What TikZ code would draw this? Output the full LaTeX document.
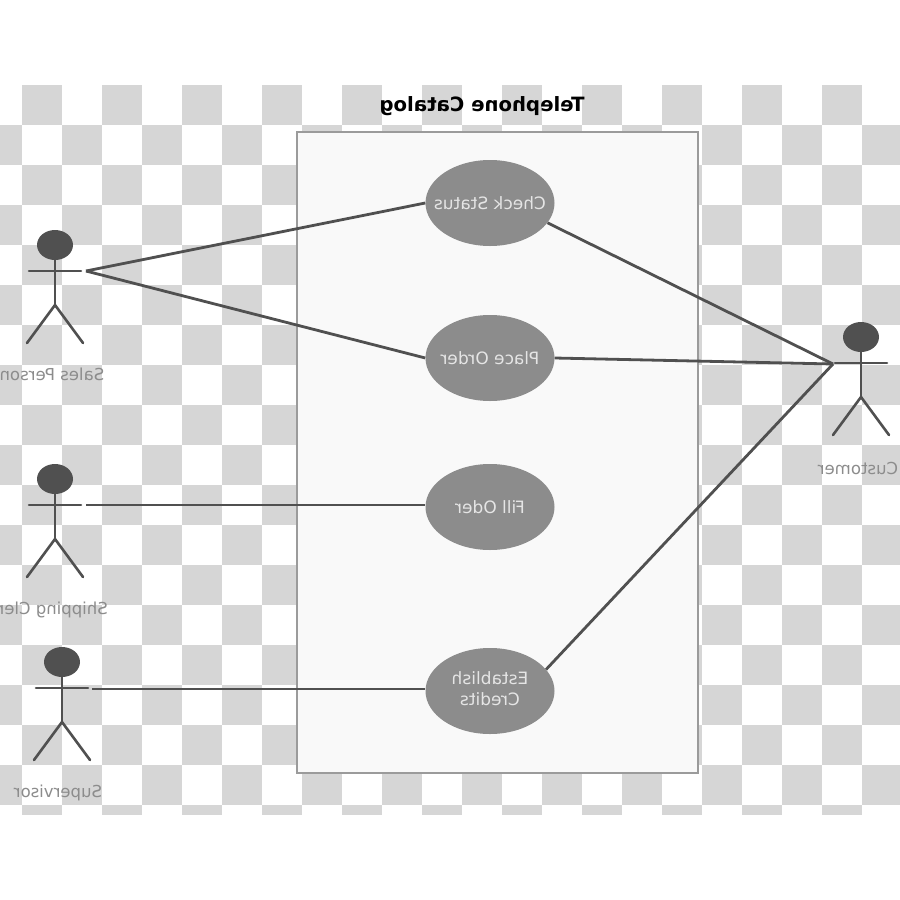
\documentclass[tikz,border=0pt]{standalone}
\usepackage{fontspec}
\usepackage{xcolor}
\setmainfont{DejaVu Sans}
\usetikzlibrary{positioning,shapes.geometric}
\definecolor{checkgray}{RGB}{214,214,214}
\definecolor{inkgray}{RGB}{80,80,80}
\definecolor{casegray}{RGB}{140,140,140}
\definecolor{labgray}{RGB}{140,140,140}
\definecolor{framegray}{RGB}{155,155,155}
\definecolor{panel}{RGB}{249,249,249}
\newcommand{\mirror}[1]{\reflectbox{#1}}
\newcommand{\casetext}[1]{\makebox[0pt]{\reflectbox{#1}}}

\begin{document}
\begin{tikzpicture}[
      x=1pt, y=-1pt,
      square/.style={fill=checkgray, draw=none},
      system/.style={draw=framegray, line width=2pt, fill=panel},
      usecase/.style={ellipse, fill=casegray, inner sep=0pt, minimum width=129pt, minimum height=86pt,
        text=white!90!black, font=\fontsize{17}{21}\selectfont},
      stick/.style={draw=inkgray, line width=2.6pt, line cap=round},
      assoc/.style={draw=inkgray, line width=2.8pt},
      lab/.style={text=labgray, font=\fontsize{16.5}{20}\selectfont},
      heading/.style={text=black, font=\fontsize{19.7}{24}\selectfont\bfseries}
    ]
      \useasboundingbox (0,0) rectangle (900,900);

      % checkerboard
      \begin{scope}
        \clip (0,85) rectangle (900,814);
        \foreach \y in {85,165,...,805} {
          \foreach \x in {22,102,...,822} {
            \fill[square] (\x,\y) rectangle ++(39.5,39.5);
          }
        }
        \foreach \y in {125,205,...,765} {
          \foreach \x in {-18,62,...,862} {
            \fill[square] (\x,\y) rectangle ++(39.5,39.5);
          }
        }
      \end{scope}

      % system boundary
      \draw[system] (297,132) rectangle (698,773);
      \node[heading] (title) at (482,106) {\mirror{Telephone Catalog}};

      % use cases
      \node[usecase] (check) at (490,203) {\casetext{Check Status}};
      \node[usecase] (place) at (490,358) {\casetext{Place Order}};
      \node[usecase] (fill) at (490,507) {\casetext{Fill Oder}};
      \node[usecase] (credit) at (490,691) {\casetext{\begin{tabular}{@{}c@{}}Establish\\[0pt]Credits\end{tabular}}};

      % actors
      \foreach \nm/\cx/\dy/\lx/\ly/\txt in {sales/55/0/52/374/Sales Person, shipping/55/234/48/610/Shipping Clerk,
          supervisor/62/417/58/793/Supervisor, customer/861/92/858/468/Customer} {
        \fill[inkgray] (\cx,245+\dy) ellipse [x radius=18, y radius=15];
        \draw[stick] (\cx,255+\dy) -- (\cx,305+\dy);
        \draw[stick] (\cx-26,271+\dy) -- (\cx+26,271+\dy);
        \draw[stick] (\cx-28,343+\dy) -- (\cx,305+\dy) -- (\cx+28,343+\dy);
        \node[lab] (\nm label) at (\lx,\ly) {\mirror{\txt}};
      }

      % free ends beside the arms
      \coordinate (sales) at (86,271);
      \coordinate (shipping) at (86,505);
      \coordinate (supervisor) at (92,689);
      \coordinate (customer) at (833,364);

      % associations
      \draw[assoc] (sales) -- (check.west);
      \draw[assoc] (sales) -- (place.west);
      \draw[assoc] (shipping) -- (fill.west |- shipping);
      \draw[assoc] (supervisor) -- (credit.west |- supervisor);
      \draw[assoc] (customer) -- (check.-19);
      \draw[assoc] (customer) -- (place.east);
      \draw[assoc] (customer) -- (credit.21);
    \end{tikzpicture}
\end{document}
